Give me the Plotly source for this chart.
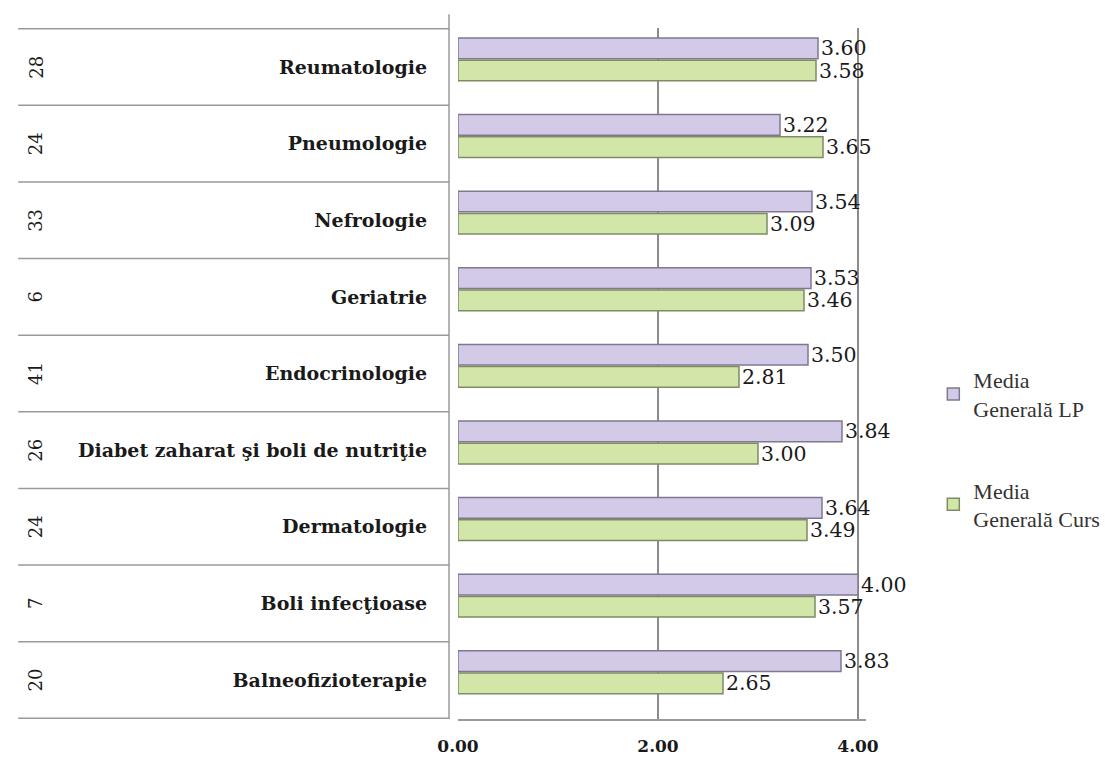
import plotly.graph_objects as go

categories = ["Reumatologie", "Pneumologie", "Nefrologie", "Geriatrie", "Endocrinologie",
              "Diabet zaharat şi boli de nutriţie", "Dermatologie", "Boli infecţioase",
              "Balneofizioterapie"]
n_values = ["28", "24", "33", "6", "41", "26", "24", "7", "20"]
media_lp = [3.60, 3.22, 3.54, 3.53, 3.50, 3.84, 3.64, 4.00, 3.83]
media_curs = [3.58, 3.65, 3.09, 3.46, 2.81, 3.00, 3.49, 3.57, 2.65]
x_ticks = [0, 2, 4]
x_tick_labels = ["0.00", "2.00", "4.00"]

SERIF = "DejaVu Serif"

fig = go.Figure()
fig.add_trace(go.Bar(
    y=categories, x=media_lp, orientation="h", name="Media<br>Generală LP",
    marker=dict(color="#D3CAE8", line=dict(color="#7F7890", width=1.5)),
    width=0.27, offset=-0.38,
    text=[f"{v:.2f}" for v in media_lp], textposition="outside",
    constraintext="none",
    textfont=dict(family=SERIF, size=20.5, color="#1a1a1a"),
    cliponaxis=False, legendgroup="a",
))
fig.add_trace(go.Bar(
    y=categories, x=media_curs, orientation="h", name="Media<br>Generală Curs",
    marker=dict(color="#D3E6A9", line=dict(color="#7E8C64", width=1.5)),
    width=0.27, offset=-0.09,
    text=[f"{v:.2f}" for v in media_curs], textposition="outside",
    constraintext="none",
    textfont=dict(family=SERIF, size=20.5, color="#1a1a1a"),
    cliponaxis=False, legendgroup="b",
))

shapes = []
# table row separators
for i in range(len(categories) + 1):
    shapes.append(dict(type="line", xref="paper", yref="y",
                       x0=-1.078, x1=-0.022, y0=i - 0.5, y1=i - 0.5,
                       line=dict(color="#9a9a9a", width=1.5)))
# left wall line
shapes.append(dict(type="line", xref="paper", yref="paper",
                   x0=-0.022, x1=-0.022, y0=0, y1=1.02,
                   line=dict(color="#9a9a9a", width=1.5)))

annotations = []
for cat, n in zip(categories, n_values):
    annotations.append(dict(xref="paper", yref="y", x=-1.066, y=cat, text=n,
                            showarrow=False, textangle=-90,
                            font=dict(family=SERIF, size=18, color="#1a1a1a")))

fig.update_layout(
    width=1110, height=751,
    margin=dict(l=450, r=252, t=20, b=40),
    paper_bgcolor="white", plot_bgcolor="white",
    barmode="overlay",
    shapes=shapes, annotations=annotations,
    xaxis=dict(range=[0, 4.08], tickvals=x_ticks, ticktext=x_tick_labels,
               showgrid=True, gridcolor="#8c8c8c", gridwidth=1.5,
               zeroline=False, showline=True, linecolor="#9a9a9a", linewidth=1.5,
               ticks="", ticklabelstandoff=11, automargin=False,
               tickfont=dict(family=SERIF, size=17, color="#1a1a1a", weight="bold")),
    yaxis=dict(autorange="reversed", showgrid=False, zeroline=False,
               ticks="", ticklabelstandoff=30, automargin=False,
               tickfont=dict(family=SERIF, size=19, color="#1a1a1a", weight="bold")),
    legend=dict(x=1.165, y=0.39, xanchor="left", yanchor="middle",
                font=dict(family="Liberation Serif", size=22, color="#333333"),
                tracegroupgap=50, itemwidth=30),
    showlegend=True,
)

fig.write_html("out.html")
